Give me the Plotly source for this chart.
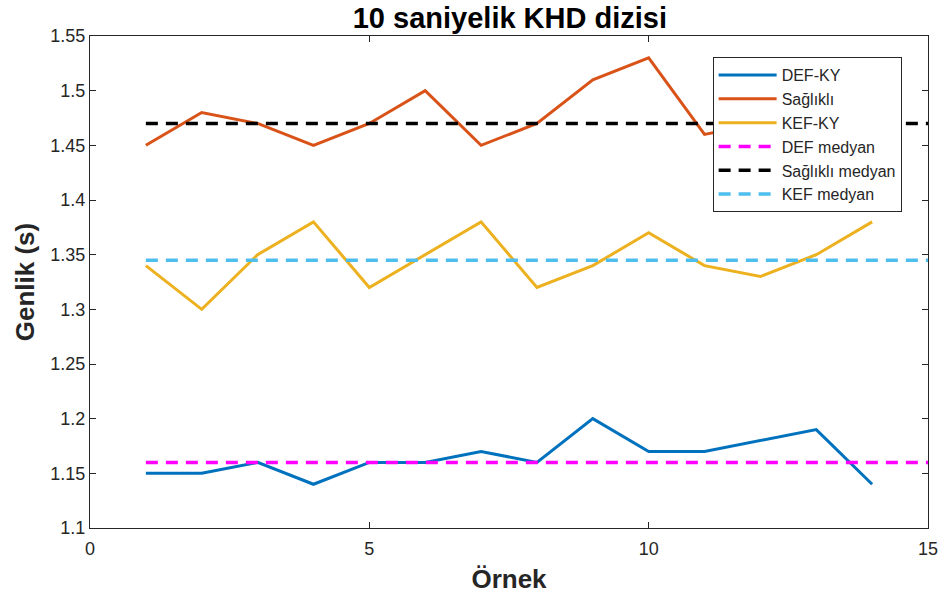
import plotly.graph_objects as go

# Sample index and the three KHD series
samples = list(range(1, 15))
def_ky = [1.15, 1.15, 1.16, 1.14, 1.16, 1.16, 1.17, 1.16, 1.20, 1.17, 1.17, 1.18, 1.19, 1.14]
saglikli = [1.45, 1.48, 1.47, 1.45, 1.47, 1.50, 1.45, 1.47, 1.51, 1.53, 1.46, 1.47, 1.49, 1.46]
kef_ky = [1.34, 1.30, 1.35, 1.38, 1.32, 1.35, 1.38, 1.32, 1.34, 1.37, 1.34, 1.33, 1.35, 1.38]

# Median reference lines span samples 1..15
median_x = list(range(1, 16))
def_median = 1.16
saglikli_median = 1.47
kef_median = 1.345

y_ticks = [1.1, 1.15, 1.2, 1.25, 1.3, 1.35, 1.4, 1.45, 1.5, 1.55]
y_tick_text = ["1.1", "1.15", "1.2", "1.25", "1.3", "1.35", "1.4", "1.45", "1.5", "1.55"]
x_ticks = [0, 5, 10, 15]

FONT = "Liberation Sans, Arial, Helvetica, sans-serif"

fig = go.Figure()
fig.add_trace(go.Scatter(x=samples, y=def_ky, mode="lines", name="DEF-KY",
                         line=dict(color="#0072BD", width=3)))
fig.add_trace(go.Scatter(x=samples, y=saglikli, mode="lines", name="Sağlıklı",
                         line=dict(color="#D95319", width=3)))
fig.add_trace(go.Scatter(x=samples, y=kef_ky, mode="lines", name="KEF-KY",
                         line=dict(color="#EDB120", width=3)))
fig.add_trace(go.Scatter(x=median_x, y=[def_median] * len(median_x), mode="lines",
                         name="DEF medyan",
                         line=dict(color="#FF00FF", width=3.5, dash="12px,8px")))
fig.add_trace(go.Scatter(x=median_x, y=[saglikli_median] * len(median_x), mode="lines",
                         name="Sağlıklı medyan",
                         line=dict(color="#000000", width=3.5, dash="12px,8px")))
fig.add_trace(go.Scatter(x=median_x, y=[kef_median] * len(median_x), mode="lines",
                         name="KEF medyan",
                         line=dict(color="#4DBEEE", width=3.5, dash="12px,8px")))

axis_common = dict(
    showgrid=False, zeroline=False, showline=True, mirror="ticks",
    linecolor="#262626", linewidth=1, ticks="inside", ticklen=6,
    tickcolor="#262626", tickfont=dict(family=FONT, size=18, color="#262626"),
    automargin=False,
)

fig.update_layout(
    width=939, height=595,
    margin=dict(l=90, r=11, t=36, b=67),
    paper_bgcolor="white", plot_bgcolor="white",
    title=dict(text="<b>10 saniyelik KHD dizisi</b>", x=0.543, xanchor="center",
               y=0.97, yanchor="middle", yref="container",
               font=dict(family=FONT, size=29, color="black")),
    xaxis=dict(range=[0, 15], tickvals=x_ticks, ticklabelstandoff=4,
               title=dict(text="<b>Örnek</b>", standoff=12,
                          font=dict(family=FONT, size=26, color="#262626")),
               **axis_common),
    yaxis=dict(range=[1.1, 1.55], tickvals=y_ticks, ticktext=y_tick_text,
               title=dict(text="<b>Genlik (s)</b>", standoff=8,
                          font=dict(family=FONT, size=26, color="#262626")),
               **axis_common),
    legend=dict(x=0.743, y=0.957, xanchor="left", yanchor="top",
                bgcolor="white", bordercolor="#262626", borderwidth=1,
                font=dict(family=FONT, size=16, color="#262626"),
                itemwidth=58, tracegroupgap=0),
    showlegend=True,
)

fig.write_html("out.html")
